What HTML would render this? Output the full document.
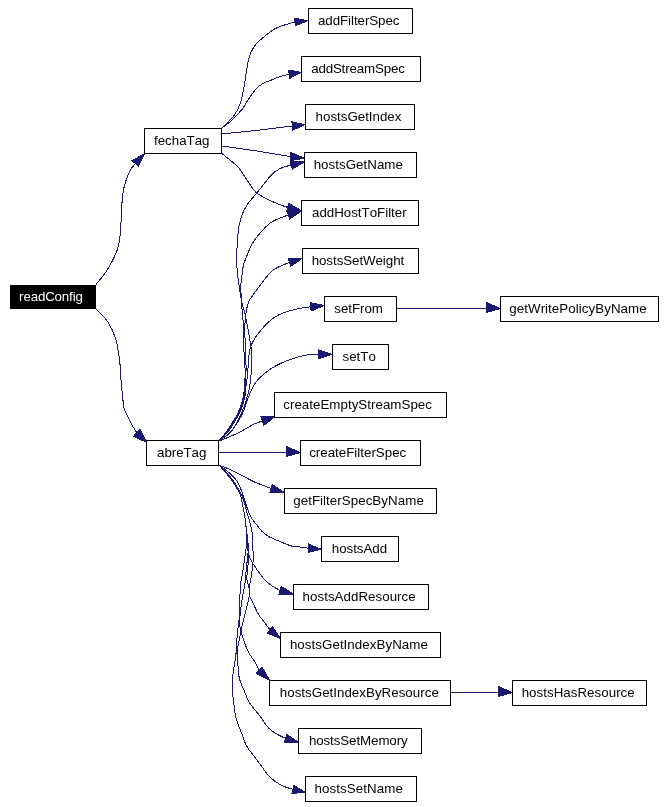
<!DOCTYPE html>
<html><head><meta charset="utf-8"><title>readConfig call graph</title>
<style>html,body{margin:0;padding:0;background:#fff}svg{display:block}text{font-family:"Liberation Sans",sans-serif;font-size:13.33px;text-anchor:start}</style></head><body>
<svg width="666" height="807" viewBox="0 0 666 807">
<rect x="0" y="0" width="666" height="807" fill="#fff"/>
<g fill="none" stroke="#191970" stroke-width="1" shape-rendering="crispEdges">
<path d="M95.80,284.60 C97.62,282.28 103.07,276.65 106.70,270.70 C110.33,264.75 115.28,255.83 117.60,248.90 C119.92,241.97 119.93,236.03 120.60,229.10 C121.27,222.17 121.03,214.23 121.60,207.30 C122.17,200.37 122.68,193.43 124.00,187.50 C125.32,181.57 127.62,175.70 129.50,171.70 C131.38,167.70 134.33,164.87 135.30,163.50"/>
<path d="M95.80,308.50 C97.78,310.70 104.40,316.68 107.70,321.70 C111.00,326.72 113.62,332.17 115.60,338.60 C117.58,345.03 118.67,353.05 119.60,360.30 C120.53,367.55 120.47,374.17 121.20,382.10 C121.93,390.03 123.00,402.42 124.00,407.90 C125.00,413.38 125.97,412.32 127.20,415.00 C128.43,417.68 129.78,421.03 131.40,424.00 C133.02,426.97 135.98,431.33 136.90,432.80"/>
<path d="M221.60,128.30 C223.70,126.13 231.05,119.57 234.20,115.30 C237.35,111.03 238.85,107.50 240.50,102.70 C242.15,97.90 242.75,93.70 244.10,86.50 C245.45,79.30 246.95,66.12 248.60,59.50 C250.25,52.88 251.28,50.72 254.00,46.80 C256.72,42.88 260.98,39.22 264.90,36.00 C268.82,32.78 272.48,29.83 277.50,27.50 C282.52,25.17 292.08,22.92 295.00,22.00"/>
<path d="M221.60,128.30 C223.40,126.88 228.95,123.02 232.40,119.80 C235.85,116.58 239.60,112.45 242.30,109.00 C245.00,105.55 246.33,102.40 248.60,99.10 C250.87,95.80 253.50,91.80 255.90,89.20 C258.30,86.60 260.32,85.07 263.00,83.50 C265.68,81.93 269.18,80.95 272.00,79.80 C274.82,78.65 277.03,77.53 279.90,76.60 C282.77,75.67 287.65,74.60 289.20,74.20"/>
<path d="M221.60,134.00 C228.00,133.33 248.22,131.33 260.00,130.00 C271.78,128.67 286.92,126.67 292.30,126.00"/>
<path d="M221.60,146.00 C228.00,146.92 248.52,149.73 260.00,151.50 C271.48,153.27 285.42,155.75 290.50,156.60"/>
<path d="M221.60,153.30 C224.30,155.55 233.57,162.35 237.80,166.80 C242.03,171.25 243.83,175.63 247.00,180.00 C250.17,184.37 252.02,189.17 256.80,193.00 C261.58,196.83 270.55,200.60 275.70,203.00 C280.85,205.40 285.70,206.67 287.70,207.40"/>
<path d="M218.40,441.30 C220.33,439.92 227.07,435.88 230.00,433.00 C232.93,430.12 234.25,427.00 236.00,424.00 C237.75,421.00 239.00,418.25 240.50,415.00 C242.00,411.75 243.87,407.62 245.00,404.50 C246.13,401.38 246.60,398.92 247.30,396.30 C248.00,393.68 248.67,391.52 249.20,388.80 C249.73,386.08 250.12,383.13 250.50,380.00 C250.88,376.87 251.25,373.33 251.50,370.00 C251.75,366.67 252.00,363.33 252.00,360.00 C252.00,356.67 251.87,353.33 251.50,350.00 C251.13,346.67 250.38,343.50 249.80,340.00 C249.22,336.50 248.83,333.50 248.00,329.00 C247.17,324.50 245.92,317.83 244.80,313.00 C243.68,308.17 242.30,305.00 241.30,300.00 C240.30,295.00 239.45,287.50 238.80,283.00 C238.15,278.50 237.77,276.83 237.40,273.00 C237.03,269.17 236.63,264.67 236.60,260.00 C236.57,255.33 236.85,250.33 237.20,245.00 C237.55,239.67 237.90,233.00 238.70,228.00 C239.50,223.00 240.62,218.83 242.00,215.00 C243.38,211.17 244.53,208.67 247.00,205.00 C249.47,201.33 253.80,196.72 256.80,193.00 C259.80,189.28 262.88,185.37 265.00,182.70 C267.12,180.03 267.85,178.82 269.50,177.00 C271.15,175.18 272.67,173.42 274.90,171.80 C277.13,170.18 280.18,168.40 282.90,167.30 C285.62,166.20 289.82,165.55 291.20,165.20"/>
<path d="M218.40,441.30 C219.68,439.80 223.68,435.55 226.10,432.30 C228.52,429.05 230.90,425.05 232.90,421.80 C234.90,418.55 236.60,416.05 238.10,412.80 C239.60,409.55 240.95,405.43 241.90,402.30 C242.85,399.17 243.37,396.88 243.80,394.00 C244.23,391.12 244.27,388.58 244.50,385.00 C244.73,381.42 245.27,377.83 245.20,372.50 C245.13,367.17 244.38,358.42 244.10,353.00 C243.82,347.58 243.68,345.50 243.50,340.00 C243.32,334.50 243.37,326.67 243.00,320.00 C242.63,313.33 241.63,306.17 241.30,300.00 C240.97,293.83 240.88,287.17 241.00,283.00 C241.12,278.83 241.58,278.00 242.00,275.00 C242.42,272.00 242.70,268.17 243.50,265.00 C244.30,261.83 245.38,259.50 246.80,256.00 C248.22,252.50 249.63,248.00 252.00,244.00 C254.37,240.00 257.67,235.70 261.00,232.00 C264.33,228.30 267.45,224.63 272.00,221.80 C276.55,218.97 285.58,216.13 288.30,215.00"/>
<path d="M218.40,441.30 C219.82,439.80 224.35,435.55 226.90,432.30 C229.45,429.05 231.70,425.05 233.70,421.80 C235.70,418.55 237.40,416.05 238.90,412.80 C240.40,409.55 241.75,405.43 242.70,402.30 C243.65,399.17 244.17,396.88 244.60,394.00 C245.03,391.12 245.07,388.58 245.30,385.00 C245.53,381.42 245.92,377.83 246.00,372.50 C246.08,367.17 245.95,358.42 245.80,353.00 C245.65,347.58 245.30,343.93 245.10,340.00 C244.90,336.07 244.57,332.82 244.60,329.40 C244.63,325.98 245.07,322.30 245.30,319.50 C245.53,316.70 245.42,315.60 246.00,312.60 C246.58,309.60 247.27,304.93 248.80,301.50 C250.33,298.07 252.68,295.53 255.20,292.00 C257.72,288.47 260.87,284.00 263.90,280.30 C266.93,276.60 269.13,272.78 273.40,269.80 C277.67,266.82 286.82,263.63 289.50,262.40"/>
<path d="M218.40,441.30 C219.95,439.80 225.02,435.55 227.70,432.30 C230.38,429.05 232.50,425.05 234.50,421.80 C236.50,418.55 238.20,416.05 239.70,412.80 C241.20,409.55 242.55,405.43 243.50,402.30 C244.45,399.17 244.97,396.88 245.40,394.00 C245.83,391.12 245.75,388.17 246.10,385.00 C246.45,381.83 247.02,380.00 247.50,375.00 C247.98,370.00 248.43,359.87 249.00,355.00 C249.57,350.13 249.58,349.07 250.90,345.80 C252.22,342.53 254.17,339.17 256.90,335.40 C259.63,331.63 263.83,326.53 267.30,323.20 C270.77,319.87 273.07,317.70 277.70,315.40 C282.33,313.10 289.60,310.83 295.10,309.40 C300.60,307.97 308.10,307.23 310.70,306.80"/>
<path d="M218.40,441.30 C220.17,440.00 225.82,436.63 229.00,433.50 C232.18,430.37 235.20,425.95 237.50,422.50 C239.80,419.05 241.30,416.17 242.80,412.80 C244.30,409.43 245.25,405.68 246.50,402.30 C247.75,398.92 249.05,395.38 250.30,392.50 C251.55,389.62 252.75,387.10 254.00,385.00 C255.25,382.90 255.87,381.95 257.80,379.90 C259.73,377.85 262.57,375.07 265.60,372.70 C268.63,370.33 271.95,367.88 276.00,365.70 C280.05,363.52 284.98,361.33 289.90,359.60 C294.82,357.87 300.73,356.17 305.50,355.30 C310.27,354.43 316.33,354.55 318.50,354.40"/>
<path d="M218.40,441.30 C219.47,440.87 222.23,439.77 224.80,438.70 C227.37,437.63 231.05,436.15 233.80,434.90 C236.55,433.65 238.80,432.52 241.30,431.20 C243.80,429.88 246.55,428.25 248.80,427.00 C251.05,425.75 252.55,424.68 254.80,423.70 C257.05,422.72 261.05,421.53 262.30,421.10"/>
<path d="M218.80,452.50 C224.00,452.50 238.72,452.50 250.00,452.50 C261.28,452.50 280.42,452.50 286.50,452.50"/>
<path d="M218.80,465.00 C220.67,465.75 226.13,467.75 230.00,469.50 C233.87,471.25 237.83,473.38 242.00,475.50 C246.17,477.62 250.15,480.05 255.00,482.20 C259.85,484.35 268.42,487.37 271.10,488.40"/>
<path d="M218.60,464.50 C220.75,466.22 228.48,472.08 231.50,474.80 C234.52,477.52 235.12,478.35 236.70,480.80 C238.28,483.25 239.85,486.75 241.00,489.50 C242.15,492.25 242.58,494.27 243.60,497.30 C244.62,500.33 246.08,504.80 247.10,507.70 C248.12,510.60 248.75,512.65 249.70,514.70 C250.65,516.75 251.42,518.03 252.80,520.00 C254.18,521.97 256.43,524.58 258.00,526.50 C259.57,528.42 260.30,529.77 262.20,531.50 C264.10,533.23 266.60,535.30 269.40,536.90 C272.20,538.50 275.40,539.60 279.00,541.10 C282.60,542.60 287.60,544.93 291.00,545.90 C294.40,546.87 296.48,546.50 299.40,546.90 C302.32,547.30 306.98,548.07 308.50,548.30"/>
<path d="M218.60,464.50 C220.32,466.50 226.17,473.05 228.90,476.50 C231.63,479.95 233.12,482.17 235.00,485.20 C236.88,488.23 238.98,491.67 240.20,494.70 C241.42,497.73 241.65,500.50 242.30,503.40 C242.95,506.30 243.58,509.20 244.10,512.10 C244.62,515.00 245.03,517.92 245.40,520.80 C245.77,523.68 245.95,526.20 246.30,529.40 C246.65,532.60 247.22,537.23 247.50,540.00 C247.78,542.77 247.77,543.55 248.00,546.00 C248.23,548.45 248.40,552.37 248.90,554.70 C249.40,557.03 250.35,558.55 251.00,560.00 C251.65,561.45 252.20,562.40 252.80,563.40 C253.40,564.40 253.75,564.73 254.60,566.00 C255.45,567.27 256.20,568.67 257.90,571.00 C259.60,573.33 262.48,577.53 264.80,580.00 C267.12,582.47 269.27,584.07 271.80,585.80 C274.33,587.53 278.63,589.63 280.00,590.40"/>
<path d="M218.60,464.50 C220.42,466.42 226.60,472.58 229.50,476.00 C232.40,479.42 234.00,481.88 236.00,485.00 C238.00,488.12 240.08,491.63 241.50,494.70 C242.92,497.77 243.62,500.50 244.50,503.40 C245.38,506.30 246.00,509.33 246.80,512.10 C247.60,514.87 248.52,517.23 249.30,520.00 C250.08,522.77 250.95,525.80 251.50,528.70 C252.05,531.60 252.42,534.52 252.60,537.40 C252.78,540.28 252.48,542.90 252.60,546.00 C252.72,549.10 253.27,552.83 253.30,556.00 C253.33,559.17 253.18,561.33 252.80,565.00 C252.42,568.67 251.53,574.50 251.00,578.00 C250.47,581.50 249.88,583.18 249.60,586.00 C249.32,588.82 248.60,591.77 249.30,594.90 C250.00,598.03 252.23,601.48 253.80,604.80 C255.37,608.12 256.88,611.82 258.70,614.80 C260.52,617.78 262.83,620.18 264.70,622.70 C266.57,625.22 269.03,628.70 269.90,629.90"/>
<path d="M218.60,464.50 C220.32,466.50 226.17,473.05 228.90,476.50 C231.63,479.95 233.12,482.17 235.00,485.20 C236.88,488.23 238.98,491.67 240.20,494.70 C241.42,497.73 241.65,500.50 242.30,503.40 C242.95,506.30 243.58,509.20 244.10,512.10 C244.62,515.00 245.03,517.92 245.40,520.80 C245.77,523.68 245.95,526.20 246.30,529.40 C246.65,532.60 247.22,536.07 247.50,540.00 C247.78,543.93 248.13,548.82 248.00,553.00 C247.87,557.18 247.07,561.63 246.70,565.10 C246.33,568.57 246.12,570.48 245.80,573.80 C245.48,577.12 245.28,581.48 244.80,585.00 C244.32,588.52 243.55,591.10 242.90,594.90 C242.25,598.70 241.40,604.00 240.90,607.80 C240.40,611.60 240.07,614.55 239.90,617.70 C239.73,620.85 239.65,624.22 239.90,626.70 C240.15,629.18 240.75,630.28 241.40,632.60 C242.05,634.92 242.90,637.95 243.80,640.60 C244.70,643.25 245.73,646.10 246.80,648.50 C247.87,650.90 248.72,652.55 250.20,655.00 C251.68,657.45 254.20,660.65 255.70,663.20 C257.20,665.75 258.62,669.12 259.20,670.30"/>
<path d="M218.60,464.50 C220.32,466.50 226.17,473.05 228.90,476.50 C231.63,479.95 233.12,482.17 235.00,485.20 C236.88,488.23 238.98,491.67 240.20,494.70 C241.42,497.73 241.65,500.50 242.30,503.40 C242.95,506.30 243.58,509.20 244.10,512.10 C244.62,515.00 245.03,517.92 245.40,520.80 C245.77,523.68 245.90,526.20 246.30,529.40 C246.70,532.60 247.45,535.78 247.80,540.00 C248.15,544.22 248.37,550.52 248.40,554.70 C248.43,558.88 248.22,561.92 248.00,565.10 C247.78,568.28 247.25,571.18 247.10,573.80 C246.95,576.42 246.78,578.43 247.10,580.80 C247.42,583.17 248.63,585.65 249.00,588.00 C249.37,590.35 249.58,592.10 249.30,594.90 C249.02,597.70 248.05,601.48 247.30,604.80 C246.55,608.12 245.70,611.15 244.80,614.80 C243.90,618.45 242.72,623.07 241.90,626.70 C241.08,630.33 240.57,633.30 239.90,636.60 C239.23,639.90 238.33,643.43 237.90,646.50 C237.47,649.57 237.28,651.77 237.30,655.00 C237.32,658.23 237.67,662.03 238.00,665.90 C238.33,669.77 238.28,674.10 239.30,678.20 C240.32,682.30 242.40,686.42 244.10,690.50 C245.80,694.58 247.00,698.62 249.50,702.70 C252.00,706.78 255.92,710.78 259.10,715.00 C262.28,719.22 265.65,724.82 268.60,728.00 C271.55,731.18 273.98,732.37 276.80,734.10 C279.62,735.83 284.05,737.68 285.50,738.40"/>
<path d="M218.60,464.50 C220.32,466.50 226.17,473.05 228.90,476.50 C231.63,479.95 233.12,482.17 235.00,485.20 C236.88,488.23 238.98,491.67 240.20,494.70 C241.42,497.73 241.65,500.50 242.30,503.40 C242.95,506.30 243.58,509.20 244.10,512.10 C244.62,515.00 245.03,517.92 245.40,520.80 C245.77,523.68 246.07,526.20 246.30,529.40 C246.53,532.60 246.88,536.50 246.80,540.00 C246.72,543.50 246.18,547.23 245.80,550.40 C245.42,553.57 244.93,555.97 244.50,559.00 C244.07,562.03 243.63,565.70 243.20,568.60 C242.77,571.50 242.37,573.67 241.90,576.40 C241.43,579.13 240.73,581.08 240.40,585.00 C240.07,588.92 240.02,594.93 239.90,599.90 C239.78,604.87 239.95,610.67 239.70,614.80 C239.45,618.93 238.78,621.40 238.40,624.70 C238.02,628.00 237.73,631.30 237.40,634.60 C237.07,637.90 236.65,641.10 236.40,644.50 C236.15,647.90 236.43,650.30 235.90,655.00 C235.37,659.70 233.83,667.47 233.20,672.70 C232.57,677.93 231.98,681.17 232.10,686.40 C232.22,691.63 233.27,698.88 233.90,704.10 C234.53,709.32 234.65,712.93 235.90,717.70 C237.15,722.47 239.62,727.98 241.40,732.70 C243.18,737.42 244.40,741.97 246.60,746.00 C248.80,750.03 252.12,753.57 254.60,756.90 C257.08,760.23 259.13,762.82 261.50,766.00 C263.87,769.18 265.58,772.83 268.80,776.00 C272.02,779.17 276.78,782.77 280.80,785.00 C284.82,787.23 290.88,788.67 292.90,789.40"/>
<path d="M396.50,308.50 C403.75,308.50 425.00,308.50 440.00,308.50 C455.00,308.50 478.75,308.50 486.50,308.50"/>
<path d="M450.50,692.50 C455.42,692.50 472.00,692.50 480.00,692.50 C488.00,692.50 495.42,692.50 498.50,692.50"/>
</g>
<g fill="#191970" stroke="#191970" stroke-width="1" shape-rendering="crispEdges">
<polygon points="138.36,166.38 144.80,153.40 132.24,160.62"/>
<polygon points="133.59,436.14 146.70,442.50 140.21,429.46"/>
<polygon points="295.38,25.78 308.00,20.70 294.62,18.22"/>
<polygon points="289.83,78.35 301.00,72.40 288.57,70.05"/>
<polygon points="292.76,130.17 305.00,124.60 291.84,121.83"/>
<polygon points="290.02,160.77 304.50,158.20 290.98,152.43"/>
<polygon points="286.74,211.49 301.40,210.60 288.66,203.31"/>
<polygon points="292.24,169.27 304.50,161.80 290.16,161.13"/>
<polygon points="289.53,219.02 301.40,211.00 287.07,210.98"/>
<polygon points="290.80,266.39 302.40,258.20 288.20,258.41"/>
<polygon points="311.10,310.98 324.20,305.50 310.30,302.62"/>
<polygon points="318.50,358.90 332.00,354.40 318.50,349.90"/>
<polygon points="263.78,425.46 274.40,417.00 260.82,416.74"/>
<polygon points="286.5,446.5 300.5,452.5 286.5,456.5"/>
<polygon points="269.89,492.42 284.40,492.40 272.31,484.38"/>
<polygon points="308.17,552.49 321.30,549.30 308.83,544.11"/>
<polygon points="278.90,594.45 293.60,594.10 281.10,586.35"/>
<polygon points="267.25,633.16 280.60,638.60 272.55,626.64"/>
<polygon points="256.30,673.34 269.60,680.20 262.10,667.26"/>
<polygon points="284.33,742.43 298.60,742.20 286.67,734.37"/>
<polygon points="291.96,793.49 305.50,792.30 293.84,785.31"/>
<polygon points="486.5,302.5 500.5,308.5 486.5,312.5"/>
<polygon points="498.5,686.5 512.5,692.5 498.5,696.5"/>
</g>
<g shape-rendering="crispEdges" stroke="#000" stroke-width="1">
<rect x="10" y="285" width="86" height="24" fill="#000" stroke="none"/>
<rect x="144.5" y="128.5" width="77" height="25" fill="#fff"/>
<rect x="146.5" y="440.5" width="72" height="25" fill="#fff"/>
<rect x="308.5" y="8.5" width="104" height="25" fill="#fff"/>
<rect x="301.5" y="56.5" width="119" height="25" fill="#fff"/>
<rect x="305.5" y="104.5" width="109" height="25" fill="#fff"/>
<rect x="304.5" y="152.5" width="112" height="25" fill="#fff"/>
<rect x="301.5" y="200.5" width="117" height="25" fill="#fff"/>
<rect x="302.5" y="248.5" width="116" height="25" fill="#fff"/>
<rect x="324.5" y="296.5" width="72" height="25" fill="#fff"/>
<rect x="332.5" y="344.5" width="56" height="25" fill="#fff"/>
<rect x="274.5" y="392.5" width="172" height="25" fill="#fff"/>
<rect x="300.5" y="440.5" width="120" height="25" fill="#fff"/>
<rect x="284.5" y="488.5" width="152" height="25" fill="#fff"/>
<rect x="321.5" y="536.5" width="77" height="25" fill="#fff"/>
<rect x="293.5" y="584.5" width="135" height="25" fill="#fff"/>
<rect x="280.5" y="632.5" width="160" height="25" fill="#fff"/>
<rect x="269.5" y="680.5" width="181" height="25" fill="#fff"/>
<rect x="298.5" y="728.5" width="123" height="25" fill="#fff"/>
<rect x="305.5" y="776.5" width="111" height="25" fill="#fff"/>
<rect x="500.5" y="296.5" width="158" height="25" fill="#fff"/>
<rect x="512.5" y="680.5" width="134" height="25" fill="#fff"/>
</g>
<g style="filter:grayscale(1)">
<text x="19.11 23.45 30.69 37.92 45.16 54.56 61.80 69.04 72.65 75.54" y="300.60" fill="#fff">readConfig</text>
<text x="154.01 157.70 165.10 171.74 179.14 186.53 194.65 202.04" y="144.60" fill="#000">fechaTag</text>
<text x="157.03 164.39 171.75 176.15 183.51 191.59 198.94" y="456.60" fill="#000">abreTag</text>
<text x="318.03 325.37 332.70 340.03 348.08 351.01 353.94 357.60 364.94 369.33 378.12 385.45 392.78" y="24.60" fill="#000">addFilterSpec</text>
<text x="311.13 318.39 325.65 332.91 341.61 345.24 349.58 356.84 364.10 374.97 383.67 390.93 398.18" y="72.60" fill="#000">addStreamSpec</text>
<text x="315.58 322.98 330.39 337.04 340.74 347.40 357.76 365.16 368.86 372.56 379.97 387.37 394.78" y="120.60" fill="#000">hostsGetIndex</text>
<text x="313.68 321.12 328.56 335.25 338.97 345.66 356.07 363.51 367.23 376.89 384.33 395.48" y="168.60" fill="#000">hostsGetName</text>
<text x="312.03 319.43 326.82 334.22 343.82 351.21 357.86 361.55 369.67 377.07 385.19 388.14 391.09 394.79 402.18" y="216.60" fill="#000">addHostToFilter</text>
<text x="311.68 319.02 326.36 332.97 336.64 343.24 352.05 359.39 363.06 375.53 382.87 385.80 393.15 400.49" y="264.60" fill="#000">hostsSetWeight</text>
<text x="334.33 340.94 348.28 351.95 360.02 364.42 371.77" y="312.60" fill="#000">setFrom</text>
<text x="342.43 349.14 356.61 360.34 368.54" y="360.60" fill="#000">setTo</text>
<text x="283.23 289.92 294.38 301.82 309.26 312.98 320.42 329.35 340.50 347.94 351.66 358.35 367.27 370.99 375.45 382.89 390.33 401.48 410.40 417.84 425.28" y="408.60" fill="#000">createEmptyStreamSpec</text>
<text x="309.13 315.80 320.25 327.66 335.08 338.79 346.21 354.36 357.32 360.28 363.99 371.41 375.85 384.75 392.17 399.58" y="456.60" fill="#000">createFilterSpec</text>
<text x="293.24 300.71 308.18 311.91 320.11 323.09 326.08 329.81 337.28 341.75 350.70 358.17 365.64 372.35 381.31 388.03 397.72 405.19 416.38" y="504.60" fill="#000">getFilterSpecByName</text>
<text x="331.78 339.14 346.51 353.14 356.82 363.44 372.28 379.64" y="552.60" fill="#000">hostsAdd</text>
<text x="302.58 310.02 317.47 324.17 327.89 334.58 343.52 350.96 358.41 368.08 375.53 382.23 389.67 397.12 401.58 408.28" y="600.60" fill="#000">hostsAddResource</text>
<text x="289.88 297.34 304.81 311.52 315.25 321.97 332.41 339.88 343.61 347.34 354.81 362.28 369.74 376.46 385.41 392.13 401.82 409.29 420.48" y="648.60" fill="#000">hostsGetIndexByName</text>
<text x="279.78 287.21 294.65 301.33 305.05 311.73 322.13 329.57 333.28 337.00 344.43 351.87 359.30 365.99 374.91 381.59 391.25 398.68 405.37 412.80 420.24 424.69 431.38" y="696.60" fill="#000">hostsGetIndexByResource</text>
<text x="308.88 316.20 323.52 330.10 333.76 340.34 349.12 356.44 360.10 371.07 378.39 389.35 396.68 401.06" y="744.60" fill="#000">hostsSetMemory</text>
<text x="314.58 322.06 329.55 336.28 340.02 346.75 355.73 363.22 366.96 376.68 384.16 395.38" y="792.60" fill="#000">hostsSetName</text>
<text x="509.24 516.72 524.20 527.94 540.63 545.11 548.10 551.83 559.31 568.28 575.76 578.75 581.74 588.46 595.19 604.16 610.88 620.59 628.07 639.28" y="312.60" fill="#000">getWritePolicyByName</text>
<text x="521.68 529.12 536.56 543.25 546.97 553.66 563.32 570.76 577.45 587.12 594.56 601.25 608.69 616.13 620.59 627.28" y="696.60" fill="#000">hostsHasResource</text>
</g>
</svg></body></html>
